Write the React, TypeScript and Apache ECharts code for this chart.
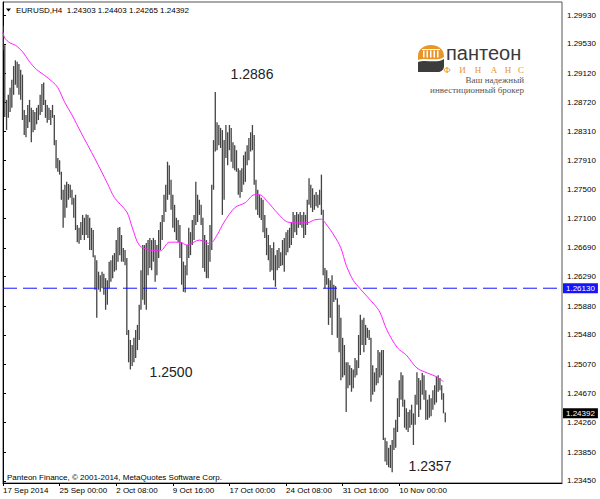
import React, { useEffect, useRef } from "react";
import * as echarts from "echarts";

// ---- data ----
const symbolTitle = "EURUSD,H4  1.24303 1.24403 1.24265 1.24392";
const footerText = "Panteon Finance, © 2001-2014, MetaQuotes Software Corp.";

const timeLabels = [
  "17 Sep 2014", "25 Sep 00:00", "2 Oct 08:00", "9 Oct 16:00",
  "17 Oct 00:00", "24 Oct 08:00", "31 Oct 16:00", "10 Nov 00:00",
];
const timeLabelBars = [0, 32, 64, 96, 128, 160, 192, 224];
const totalSlots = 316;

const priceTicks = [
  1.2345, 1.2385, 1.2426, 1.2467, 1.2507, 1.2548, 1.2588, 1.2629, 1.2669,
  1.271, 1.275, 1.2791, 1.2831, 1.2872, 1.2912, 1.2953, 1.2993,
];
const priceMin = 1.23421;
const priceMax = 1.30111;

const highs = [
  1.2978, 1.2951, 1.2875, 1.2882, 1.2892, 1.2903, 1.2922, 1.2930, 1.2928, 1.2925,
  1.2917, 1.2910, 1.2861, 1.2854, 1.2868, 1.2875, 1.2864, 1.2861, 1.2858, 1.2864,
  1.2868, 1.2882, 1.2897, 1.2899, 1.2875, 1.2868, 1.2864, 1.2861, 1.2868, 1.2854,
  1.2819, 1.2794, 1.2791, 1.2775, 1.2750, 1.2757, 1.2761, 1.2758, 1.2757, 1.2750,
  1.2739, 1.2743, 1.2701, 1.2697, 1.2705, 1.2715, 1.2711, 1.2716, 1.2715, 1.2711,
  1.2697, 1.2694, 1.2659, 1.2652, 1.2636, 1.2631, 1.2636, 1.2633, 1.2627, 1.2624,
  1.2650, 1.2652, 1.2659, 1.2662, 1.2680, 1.2697, 1.2698, 1.2687, 1.2669, 1.2666,
  1.2655, 1.2555, 1.2541, 1.2534, 1.2544, 1.2555, 1.2562, 1.2590, 1.2638, 1.2673,
  1.2673, 1.2676, 1.2680, 1.2683, 1.2680, 1.2683, 1.2680, 1.2673, 1.2694, 1.2705,
  1.2715, 1.2743, 1.2757, 1.2789, 1.2784, 1.2764, 1.2743, 1.2729, 1.2711, 1.2708,
  1.2701, 1.2677, 1.2650, 1.2645, 1.2673, 1.2697, 1.2691, 1.2708, 1.2715, 1.2761,
  1.2743, 1.2736, 1.2729, 1.2711, 1.2687, 1.2680, 1.2673, 1.2701, 1.2757, 1.2819,
  1.2886, 1.2844, 1.2840, 1.2836, 1.2833, 1.2819, 1.2840, 1.2830, 1.2840, 1.2836,
  1.2816, 1.2812, 1.2805, 1.2780, 1.2777, 1.2780, 1.2798, 1.2803, 1.2812, 1.2822,
  1.2830, 1.2840, 1.2826, 1.2764, 1.2750, 1.2743, 1.2739, 1.2736, 1.2715, 1.2697,
  1.2687, 1.2673, 1.2669, 1.2677, 1.2659, 1.2666, 1.2669, 1.2663, 1.2680, 1.2683,
  1.2691, 1.2694, 1.2697, 1.2705, 1.2719, 1.2715, 1.2719, 1.2716, 1.2719, 1.2715,
  1.2719, 1.2715, 1.2736, 1.2766, 1.2757, 1.2752, 1.2743, 1.2747, 1.2743, 1.2750,
  1.2771, 1.2722, 1.2641, 1.2638, 1.2627, 1.2624, 1.2631, 1.2618, 1.2616, 1.2599,
  1.2590, 1.2572, 1.2544, 1.2534, 1.2510, 1.2510, 1.2506, 1.2502, 1.2500, 1.2516,
  1.2513, 1.2548, 1.2576, 1.2569, 1.2572, 1.2562, 1.2558, 1.2555, 1.2544, 1.2506,
  1.2496, 1.2502, 1.2527, 1.2524, 1.2527, 1.2527, 1.2405, 1.2400, 1.2391, 1.2395,
  1.2402, 1.2419, 1.2430, 1.2460, 1.2485, 1.2496, 1.2492, 1.2458, 1.2446, 1.2441,
  1.2444, 1.2451, 1.2439, 1.2465, 1.2496, 1.2488, 1.2485, 1.2495, 1.2492, 1.2471,
  1.2458, 1.2465, 1.2460, 1.2471, 1.2478, 1.2490, 1.2492, 1.2488, 1.2478, 1.2467,
  1.24403,
];

const lows = [
  1.2944, 1.2851, 1.2833, 1.2850, 1.2858, 1.2864, 1.2882, 1.2896, 1.2892, 1.2882,
  1.2875, 1.2847, 1.2826, 1.2823, 1.2836, 1.2844, 1.2816, 1.2830, 1.2833, 1.2841,
  1.2847, 1.2854, 1.2858, 1.2868, 1.2850, 1.2843, 1.2847, 1.2840, 1.2850, 1.2812,
  1.2780, 1.2775, 1.2771, 1.2736, 1.2697, 1.2711, 1.2725, 1.2736, 1.2739, 1.2729,
  1.2711, 1.2694, 1.2677, 1.2675, 1.2680, 1.2687, 1.2680, 1.2687, 1.2683, 1.2666,
  1.2666, 1.2656, 1.2611, 1.2572, 1.2611, 1.2608, 1.2613, 1.2604, 1.2583, 1.2590,
  1.2613, 1.2622, 1.2627, 1.2636, 1.2638, 1.2650, 1.2659, 1.2650, 1.2650, 1.2645,
  1.2548, 1.2510, 1.2500, 1.2505, 1.2510, 1.2516, 1.2527, 1.2541, 1.2583, 1.2597,
  1.2590, 1.2583, 1.2631, 1.2641, 1.2638, 1.2650, 1.2622, 1.2631, 1.2655, 1.2666,
  1.2680, 1.2705, 1.2719, 1.2736, 1.2743, 1.2722, 1.2697, 1.2691, 1.2680, 1.2677,
  1.2655, 1.2618, 1.2608, 1.2607, 1.2631, 1.2655, 1.2659, 1.2673, 1.2680, 1.2701,
  1.2705, 1.2715, 1.2701, 1.2641, 1.2636, 1.2627, 1.2627, 1.2650, 1.2666, 1.2750,
  1.2803, 1.2805, 1.2812, 1.2808, 1.2715, 1.2736, 1.2794, 1.2784, 1.2805, 1.2789,
  1.2780, 1.2777, 1.2775, 1.2743, 1.2739, 1.2747, 1.2757, 1.2761, 1.2784, 1.2791,
  1.2803, 1.2805, 1.2757, 1.2722, 1.2715, 1.2711, 1.2708, 1.2691, 1.2683, 1.2659,
  1.2652, 1.2636, 1.2638, 1.2624, 1.2615, 1.2638, 1.2641, 1.2644, 1.2645, 1.2636,
  1.2659, 1.2663, 1.2669, 1.2673, 1.2683, 1.2691, 1.2687, 1.2697, 1.2701, 1.2697,
  1.2683, 1.2687, 1.2701, 1.2729, 1.2725, 1.2719, 1.2722, 1.2727, 1.2725, 1.2729,
  1.2715, 1.2631, 1.2613, 1.2618, 1.2562, 1.2572, 1.2548, 1.2594, 1.2597, 1.2544,
  1.2524, 1.2485, 1.2489, 1.2492, 1.2441, 1.2474, 1.2478, 1.2469, 1.2474, 1.2489,
  1.2492, 1.2502, 1.2520, 1.2534, 1.2524, 1.2534, 1.2544, 1.2541, 1.2455, 1.2465,
  1.2469, 1.2478, 1.2481, 1.2489, 1.2492, 1.2402, 1.2372, 1.2367, 1.2364, 1.2363,
  1.2357, 1.2388, 1.2391, 1.2413, 1.2434, 1.2458, 1.2448, 1.2419, 1.2416, 1.2413,
  1.2419, 1.2423, 1.2395, 1.2423, 1.2451, 1.2434, 1.2444, 1.2465, 1.2458, 1.2430,
  1.2430, 1.2433, 1.2435, 1.2444, 1.2451, 1.2454, 1.2469, 1.2471, 1.2458, 1.2439,
  1.24265,
];

// moving average: [bar index, price]
const maPoints = [
  [0, 1.2969], [1, 1.2961], [4, 1.2954], [7, 1.2951], [11, 1.2942], [15, 1.2928],
  [19, 1.2917], [23, 1.2910], [28, 1.2900], [31, 1.2892], [35, 1.2871], [39, 1.2854],
  [44, 1.2830], [52, 1.2793], [59, 1.2759], [63, 1.2739], [70, 1.2719], [73, 1.2698],
  [77, 1.2673], [83, 1.2666], [89, 1.2665], [94, 1.2677], [100, 1.2677], [104, 1.2673],
  [111, 1.2680], [117, 1.2675], [121, 1.2687], [125, 1.2705], [131, 1.2725], [137, 1.2732],
  [142, 1.2743], [145, 1.2743], [150, 1.2732], [155, 1.2718], [161, 1.2705], [167, 1.2704],
  [172, 1.2704], [176, 1.2708], [180, 1.2709], [183, 1.2701], [187, 1.2687], [191, 1.2669],
  [194, 1.2645], [198, 1.2624], [202, 1.2612], [206, 1.2601], [210, 1.2590], [213, 1.2580],
  [217, 1.2555], [223, 1.2530], [228, 1.2520], [234, 1.2502], [240, 1.2495], [245, 1.2490],
  [249, 1.2483],
];

const supportLevel = 1.2613;
const lastClose = 1.24392;
const extremeLabels = ["1.2886", "1.2500", "1.2357"];
const logoWord = "пантеон";
const logoLetters = ["Ф", "И", "Н", "А", "Н", "С"];
const logoSlogan = ["Ваш надежный", "инвестиционный брокер"];

// ---- logo shapes ----
const domePath =
  "M0 15 L0 11 C0 4 6 0 13 0 C20 0 26 4 26 11 L26 12 C19 17 8 12 0 15 Z";
const swooshPath =
  "M0 17 C8 14 18 19 26 14 L26 21 C26 24.5 23.5 27 20 27 L0 27 Z";
let shapesRegistered = false;
function registerShapes() {
  if (shapesRegistered) return;
  echarts.graphic.registerShape("logoDome", echarts.graphic.extendPath(domePath, {}));
  echarts.graphic.registerShape("logoSwoosh", echarts.graphic.extendPath(swooshPath, {}));
  shapesRegistered = true;
}

const SANS = "'Liberation Sans', Arial, sans-serif";
const SERIF = "'Liberation Serif', 'Times New Roman', serif";
const LEVEL_BLUE = "#1414ff";

export default function App() {
  const ref = useRef<HTMLDivElement>(null);

  useEffect(() => {
    if (!ref.current) return;
    registerShapes();
    const chart = echarts.init(ref.current, undefined, { renderer: "svg" });

    const barData = highs.map((h, i) => [i, h, lows[i]]);
    const letterX = [447, 462.5, 478, 494, 508, 521];

    const priceTag = (bg: string) => ({
      show: true,
      position: "end",
      backgroundColor: bg,
      color: "#fff",
      fontSize: 8,
      fontFamily: SANS,
      padding: [1, 3, 1, 3],
      distance: 1,
    });

    const option: any = {
      animation: false,
      backgroundColor: "#ffffff",
      grid: {
        left: 3,
        top: 2,
        right: 38,
        bottom: 16,
        show: true,
        borderColor: "#555",
        borderWidth: 1,
        backgroundColor: "#fff",
      },
      xAxis: {
        type: "value",
        min: 0,
        max: totalSlots,
        position: "bottom",
        axisLine: { show: true, lineStyle: { color: "#000", width: 1 } },
        axisTick: {
          show: true,
          length: 3,
          customValues: timeLabelBars,
          lineStyle: { color: "#000" },
        },
        axisLabel: {
          customValues: timeLabelBars,
          formatter: (v: number) => {
            const k = timeLabelBars.indexOf(Math.round(v));
            return k >= 0 ? timeLabels[k] : "";
          },
          align: "left",
          margin: 3,
          fontSize: 8,
          fontFamily: SANS,
          color: "#000",
        },
        splitLine: { show: false },
      },
      yAxis: {
        type: "value",
        position: "right",
        min: priceMin,
        max: priceMax,
        axisLine: { show: true, lineStyle: { color: "#000", width: 1 } },
        axisTick: {
          show: true,
          length: 3,
          customValues: priceTicks,
          lineStyle: { color: "#000" },
        },
        axisLabel: {
          customValues: priceTicks,
          formatter: (v: number) => v.toFixed(5),
          margin: 5,
          fontSize: 8,
          fontFamily: SANS,
          color: "#000",
        },
        splitLine: { show: false },
      },
      series: [
        {
          type: "custom",
          name: "EURUSD",
          data: barData,
          encode: { x: 0, y: [1, 2] },
          clip: true,
          renderItem: (params: any, api: any) => {
            const i = api.value(0);
            const top = api.coord([i, api.value(1)]);
            const bot = api.coord([i, api.value(2)]);
            return {
              type: "line",
              shape: { x1: top[0], y1: top[1], x2: bot[0], y2: bot[1] },
              style: { stroke: "#444", lineWidth: 1.3 },
            };
          },
          z: 2,
        },
        {
          type: "line",
          name: "Level",
          data: [
            [0, supportLevel],
            [totalSlots, supportLevel],
          ],
          symbol: "none",
          color: LEVEL_BLUE,
          lineStyle: { color: LEVEL_BLUE, type: [14, 6], width: 1 },
          endLabel: {
            show: true,
            formatter: () => supportLevel.toFixed(5),
            backgroundColor: LEVEL_BLUE,
            color: "#fff",
            fontSize: 8,
            fontFamily: SANS,
            padding: [1, 3, 1, 3],
            distance: 1,
          },
          z: 4,
        },
        {
          type: "line",
          name: "MA",
          data: maPoints,
          symbol: "none",
          smooth: 0.3,
          color: "#ff22ff",
          lineStyle: { color: "#ff22ff", width: 1 },
          z: 3,
          markLine: {
            silent: true,
            symbol: "none",
            precision: 5,
            animation: false,
            data: [
              {
                yAxis: lastClose,
                lineStyle: { color: "rgba(0,0,0,0)", width: 0 },
                label: { ...priceTag("#000"), formatter: () => lastClose.toFixed(5) },
              },
            ],
          },
        },
      ],
      graphic: [
        {
          type: "polygon",
          shape: { points: [[6, 8.5], [11, 8.5], [8.5, 11.5]] },
          style: { fill: "#000" },
        },
        {
          type: "text",
          x: 16,
          y: 10,
          style: {
            text: symbolTitle,
            fontSize: 8,
            fontFamily: SANS,
            fill: "#000",
            textVerticalAlign: "middle",
          },
        },
        {
          type: "text",
          x: 7,
          y: 477,
          style: {
            text: footerText,
            fontSize: 8,
            fontFamily: SANS,
            fill: "#000",
            textVerticalAlign: "middle",
          },
        },
        ...[
          [252, 74],
          [171, 372],
          [430, 466],
        ].map((p, k) => ({
          type: "text",
          x: p[0],
          y: p[1],
          style: {
            text: extremeLabels[k],
            fontSize: 14,
            fontFamily: SANS,
            fill: "#222",
            textAlign: "center",
            textVerticalAlign: "middle",
          },
        })),
        // logo
        {
          type: "group",
          x: 418,
          y: 45,
          children: [
            { type: "logoDome", style: { fill: "#e8962a" } },
            ...[5, 8.5, 12, 15.5, 19].map((cx) => ({
              type: "rect",
              shape: { x: cx, y: 5.5, width: 1.5, height: 7 },
              style: { fill: "#fff" },
            })),
            {
              type: "rect",
              shape: { x: 4, y: 4, width: 18, height: 1 },
              style: { fill: "#fff" },
            },
            { type: "logoSwoosh", style: { fill: "#3c3c3c" } },
          ],
        },
        {
          type: "text",
          x: 446,
          y: 53,
          style: {
            text: logoWord,
            fontSize: 20,
            fontFamily: SANS,
            fill: "#3a3a3a",
            textVerticalAlign: "middle",
          },
        },
        ...logoLetters.map((ch, k) => ({
          type: "text",
          x: letterX[k],
          y: 69.5,
          style: {
            text: ch,
            fontSize: 9,
            fontFamily: SERIF,
            fill: "#e8962a",
            textAlign: "center",
            textVerticalAlign: "middle",
          },
        })),
        ...logoSlogan.map((s, k) => ({
          type: "text",
          x: 524,
          y: 80 + k * 10,
          style: {
            text: s,
            fontSize: 9,
            fontFamily: SERIF,
            fill: "#555",
            textAlign: "right",
            textVerticalAlign: "middle",
          },
        })),
      ],
    };

    chart.setOption(option);
    return () => chart.dispose();
  }, []);

  return (
    <div
      ref={ref}
      style={{ position: "absolute", left: 0, top: 0, width: 600, height: 499 }}
    />
  );
}
